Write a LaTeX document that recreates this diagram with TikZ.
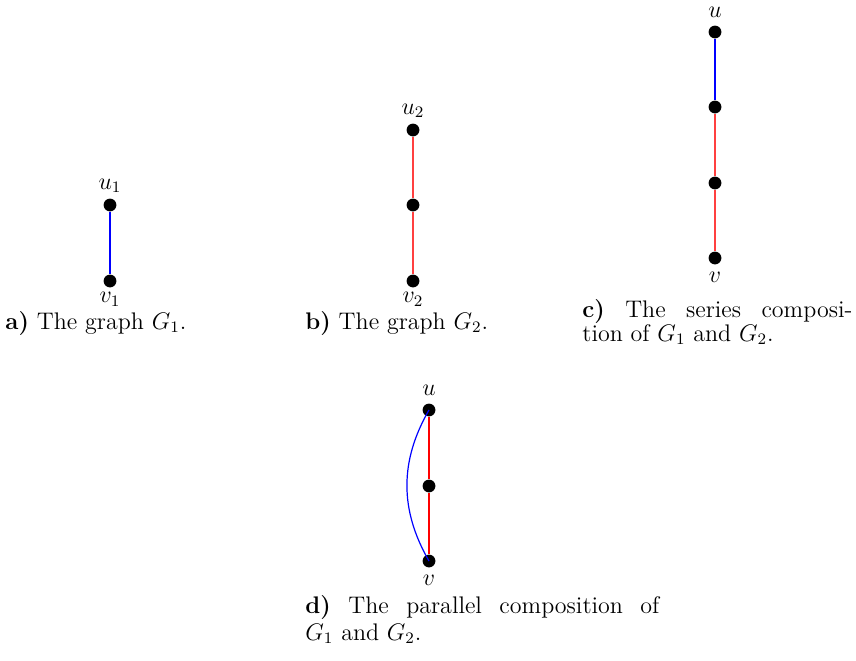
\documentclass[tikz,border=0pt]{standalone}
\definecolor{edgeblue}{rgb}{0,0,1}
\definecolor{edgered}{rgb}{1,0,0}
\definecolor{edgelightred}{rgb}{1,0.25,0.25}
\begin{document}
\begin{tikzpicture}[x=0.5pt,y=-0.5pt,
  every node/.style={font=\fontsize{12}{14.4}\selectfont},
  vtx/.style={circle,fill=black,inner sep=0pt,minimum size=6.4pt},
  lbl/.style={inner sep=1pt},
  captxt/.style={anchor=base west,inner sep=0pt},
  be/.style={draw=edgeblue,line width=0.6pt},
  re/.style={draw=edgelightred,line width=0.6pt},
  rd/.style={draw=edgered,line width=0.6pt}]
\useasboundingbox (0,0) rectangle (856,660);
% a)
\node[vtx] (a1) at (110,205) {};
\node[vtx] (a2) at (110,281) {};
\draw[be] (a1) -- (a2);
\node[lbl,above=1.5pt] at (a1.north) {$u_1$};
\node[lbl,below=1.2pt] at (a2.south) {$v_1$};
\node[captxt] (ca) at (5,329) {\textbf{a)} The graph $G_1$.};
% b)
\node[vtx] (b1) at (413,130) {};
\node[vtx] (b2) at (413,205) {};
\node[vtx] (b3) at (413,281) {};
\draw[re] (b1) -- (b2) -- (b3);
\node[lbl,above=1.5pt] at (b1.north) {$u_2$};
\node[lbl,below=1.2pt] at (b3.south) {$v_2$};
\node[captxt] (cb) at (305,329) {\textbf{b)} The graph $G_2$.};
% c)
\node[vtx] (c1) at (715,32) {};
\node[vtx] (c2) at (715,107) {};
\node[vtx] (c3) at (715,183) {};
\node[vtx] (c4) at (715,258) {};
\draw[be] (c1) -- (c2);
\draw[re] (c2) -- (c3) -- (c4);
\node[lbl,above=2.5pt] at (c1.north) {$u$};
\node[lbl,below=2.5pt] at (c4.south) {$v$};
\node[captxt] (cc1) at (582,317) {\makebox[135pt][s]{\textbf{c)} The series composi-}};
\node[captxt] (cc2) at (582,341) {tion of $G_1$ and $G_2$.};
% d)
\node[vtx] (d1) at (429,410) {};
\node[vtx] (d2) at (429,486) {};
\node[vtx] (d3) at (429,561) {};
\draw[rd] (d1) -- (d2) -- (d3);
\draw[be] (d1.center) to[bend right=30] (d3.center);
\node[lbl,above=2.5pt] at (d1.north) {$u$};
\node[lbl,below=2.5pt] at (d3.south) {$v$};
\node[captxt] (cd1) at (305,613) {\makebox[177pt][s]{\textbf{d)} The parallel composition of}};
\node[captxt] (cd2) at (305,640) {$G_1$ and $G_2$.};
\end{tikzpicture}
\end{document}
